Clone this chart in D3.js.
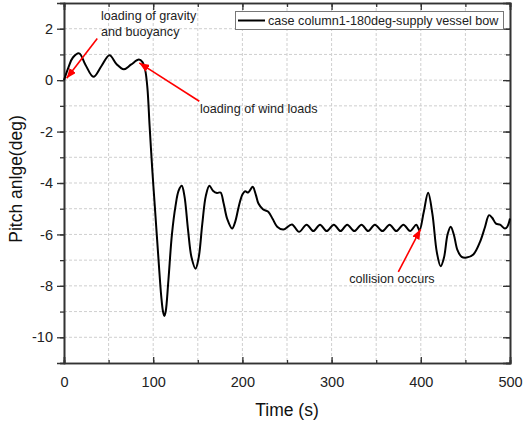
<!DOCTYPE html>
<html>
<head>
<meta charset="utf-8">
<script src="https://cdn.jsdelivr.net/npm/d3@7"></script>
<style>
  html, body { margin: 0; padding: 0; background: #fff; }
  svg { display: block; font-family: "Liberation Sans", Arial, sans-serif; }
</style>
</head>
<body>
<svg id="chart" width="523" height="423"></svg>
<script>
// ---- data ----
const timeS = [0, 5, 10, 17, 24, 33, 42, 51, 59, 67, 75, 84, 88, 91, 93.5, 96, 99, 102, 106, 109, 111, 112.5, 114, 117, 121, 125, 128.5, 132, 135, 139, 143, 147.5, 151, 155, 159, 163, 167, 171.5, 175.5, 179, 183, 188.5, 192, 196, 200, 203, 206.5, 211.5, 215, 218, 223, 229, 234, 239, 246, 255.5, 263.5, 272, 279.5, 287, 294.5, 302.5, 310, 317.5, 325.5, 333.5, 341, 348.5, 357, 365, 372.5, 380.5, 388, 395, 398.5, 403.2, 408.2, 413, 418, 422.3, 426, 430, 433.5, 437, 441, 445.8, 451.4, 458.9, 466.4, 472, 476.5, 480, 484.3, 488.8, 494.4, 497, 500];
const pitchDeg = [0, 0.5, 0.88, 1.04, 0.6, 0.13, 0.55, 0.97, 0.62, 0.42, 0.6, 0.8, 0.7, 0.4, -0.3, -1.8, -3.5, -5.0, -7.0, -8.4, -9.0, -9.17, -9.0, -7.8, -6.0, -4.9, -4.3, -4.11, -4.5, -5.8, -6.9, -7.33, -6.9, -5.6, -4.5, -4.11, -4.3, -4.39, -4.37, -4.8, -5.4, -5.77, -5.5, -4.9, -4.45, -4.32, -4.37, -4.15, -4.45, -4.8, -5.02, -5.12, -5.4, -5.7, -5.81, -5.61, -5.9, -5.62, -5.87, -5.62, -5.87, -5.62, -5.87, -5.62, -5.87, -5.62, -5.87, -5.62, -5.87, -5.62, -5.87, -5.62, -5.87, -5.62, -5.84, -5.15, -4.38, -5.2, -6.7, -7.24, -6.9, -6.0, -5.7, -6.0, -6.6, -6.87, -6.9, -6.78, -6.29, -5.71, -5.25, -5.35, -5.58, -5.62, -5.77, -5.7, -5.38];

const xTicks = [0, 100, 200, 300, 400, 500];
const xMinorTicks = [0, 50, 100, 150, 200, 250, 300, 350, 400, 450, 500];
const yTicks = [2, 0, -2, -4, -6, -8, -10];
const yMinorTicks = [3, 2, 1, 0, -1, -2, -3, -4, -5, -6, -7, -8, -9, -10, -11];

const xLabel = "Time (s)";
const yLabel = "Pitch anlge(deg)";
const seriesName = "case column1-180deg-supply vessel bow";

// annotations in data coordinates
const noteTexts = ["loading of gravity", "and buoyancy", "loading of wind loads", "collision occurs"];
const noteT = [41.5, 41.5, 152.5, 319.8];
const noteV = [2.33, 1.72, -1.27, -7.88];
const arrowFromT = [37.3, 151.7, 374.8];
const arrowFromV = [1.62, -0.82, -7.46];
const arrowToT = [3, 84.4, 399.7];
const arrowToV = [0.07, 0.67, -5.8];

// ---- drawing ----
const svg = d3.select("#chart");
const mLeft = 64, mRight = 510, mTop = 3, mBottom = 363;
const x = d3.scaleLinear().domain([0, 500]).range([mLeft, mRight]);
const y = d3.scaleLinear().domain([-11, 3]).range([mBottom, mTop]);
const axisColor = "#333";

// grid
const grid = svg.append("g");
grid.selectAll("line.vg").data(xMinorTicks.filter(d => d > 0 && d < 500)).join("line")
  .attr("x1", d => x(d)).attr("x2", d => x(d)).attr("y1", mTop).attr("y2", mBottom)
  .attr("stroke", "#cfcfcf").attr("stroke-width", 1).attr("stroke-dasharray", "3,2");
grid.selectAll("line.hg").data(yMinorTicks.filter(d => d > -11 && d < 3)).join("line")
  .attr("y1", d => y(d)).attr("y2", d => y(d)).attr("x1", mLeft).attr("x2", mRight)
  .attr("stroke", "#cfcfcf").attr("stroke-width", 1).attr("stroke-dasharray", "3,2");

// axes
const gx = svg.append("g").attr("transform", `translate(0,${mBottom})`)
  .call(d3.axisBottom(x).tickValues(xMinorTicks).tickSize(-3).tickFormat(""));
const gx2 = svg.append("g").attr("transform", `translate(0,${mBottom})`)
  .call(d3.axisBottom(x).tickValues(xTicks).tickSize(-6).tickPadding(14).tickFormat(d3.format("d")));
const gxt = svg.append("g").attr("transform", `translate(0,${mTop})`)
  .call(d3.axisTop(x).tickValues(xMinorTicks).tickSize(-4).tickFormat(""));
const gxt2 = svg.append("g").attr("transform", `translate(0,${mTop})`)
  .call(d3.axisTop(x).tickValues(xTicks).tickSize(-7).tickFormat(""));
const gy = svg.append("g").attr("transform", `translate(${mLeft},0)`)
  .call(d3.axisLeft(y).tickValues(yMinorTicks).tickSize(4).tickFormat(""));
const gy2 = svg.append("g").attr("transform", `translate(${mLeft},0)`)
  .call(d3.axisLeft(y).tickValues(yTicks).tickSize(7).tickPadding(4).tickFormat(d => String(d)));
const gyr = svg.append("g").attr("transform", `translate(${mRight},0)`)
  .call(d3.axisRight(y).tickValues(yMinorTicks).tickSize(-4).tickFormat(""));
const gyr2 = svg.append("g").attr("transform", `translate(${mRight},0)`)
  .call(d3.axisRight(y).tickValues(yTicks).tickSize(-7).tickFormat(""));

[gx, gx2, gxt, gxt2, gy, gy2, gyr, gyr2].forEach(g => {
  g.select(".domain").attr("stroke", axisColor).attr("stroke-width", 1.6);
  g.selectAll(".tick line").attr("stroke", axisColor).attr("stroke-width", 1.3);
  g.selectAll(".tick text").attr("fill", "#222").attr("font-size", "14.5px")
    .attr("font-family", "'Liberation Sans', Arial, sans-serif");
});

// axis titles
svg.append("text").attr("x", (mLeft + mRight) / 2).attr("y", 416)
  .attr("text-anchor", "middle").attr("font-size", "17.5px").attr("fill", "#111").text(xLabel);
svg.append("text").attr("transform", `translate(22,${(mTop + mBottom) / 2 - 4}) rotate(-90)`)
  .attr("text-anchor", "middle").attr("font-size", "17.5px").attr("fill", "#111").text(yLabel);

// series
const series = timeS.map((t, i) => [t, pitchDeg[i]]);
const line = d3.line().x(d => x(d[0])).y(d => y(d[1])).curve(d3.curveCatmullRom.alpha(0.5));
svg.append("path").datum(series).attr("d", line)
  .attr("fill", "none").attr("stroke", "#000").attr("stroke-width", 2).attr("stroke-linejoin", "round");

// arrows
svg.append("defs").append("marker").attr("id", "ah")
  .attr("viewBox", "0 0 10 8").attr("refX", 10).attr("refY", 4)
  .attr("markerWidth", 10).attr("markerHeight", 8).attr("markerUnits", "userSpaceOnUse")
  .attr("orient", "auto")
  .append("path").attr("d", "M0,0 L10,4 L0,8 Z").attr("fill", "#ff0000");
svg.selectAll("line.arrow").data(arrowFromT).join("line").attr("class", "arrow")
  .attr("x1", (d, i) => x(arrowFromT[i])).attr("y1", (d, i) => y(arrowFromV[i]))
  .attr("x2", (d, i) => x(arrowToT[i])).attr("y2", (d, i) => y(arrowToV[i]))
  .attr("stroke", "#ff0000").attr("stroke-width", 1.6).attr("marker-end", "url(#ah)");

// annotation texts
svg.selectAll("text.note").data(noteTexts).join("text").attr("class", "note")
  .attr("x", (d, i) => x(noteT[i])).attr("y", (d, i) => y(noteV[i]))
  .attr("font-size", "12.6px").attr("fill", "#222").text(d => d);

// legend
const lg = svg.append("g");
lg.append("rect").attr("x", 235.5).attr("y", 11.5).attr("width", 268).attr("height", 18)
  .attr("fill", "#fff").attr("stroke", "#777").attr("stroke-width", 1);
lg.append("line").attr("x1", 238).attr("x2", 265).attr("y1", 20.5).attr("y2", 20.5)
  .attr("stroke", "#000").attr("stroke-width", 2);
lg.append("text").attr("x", 268).attr("y", 25).attr("font-size", "12.6px").attr("fill", "#222").text(seriesName);
</script>
</body>
</html>
